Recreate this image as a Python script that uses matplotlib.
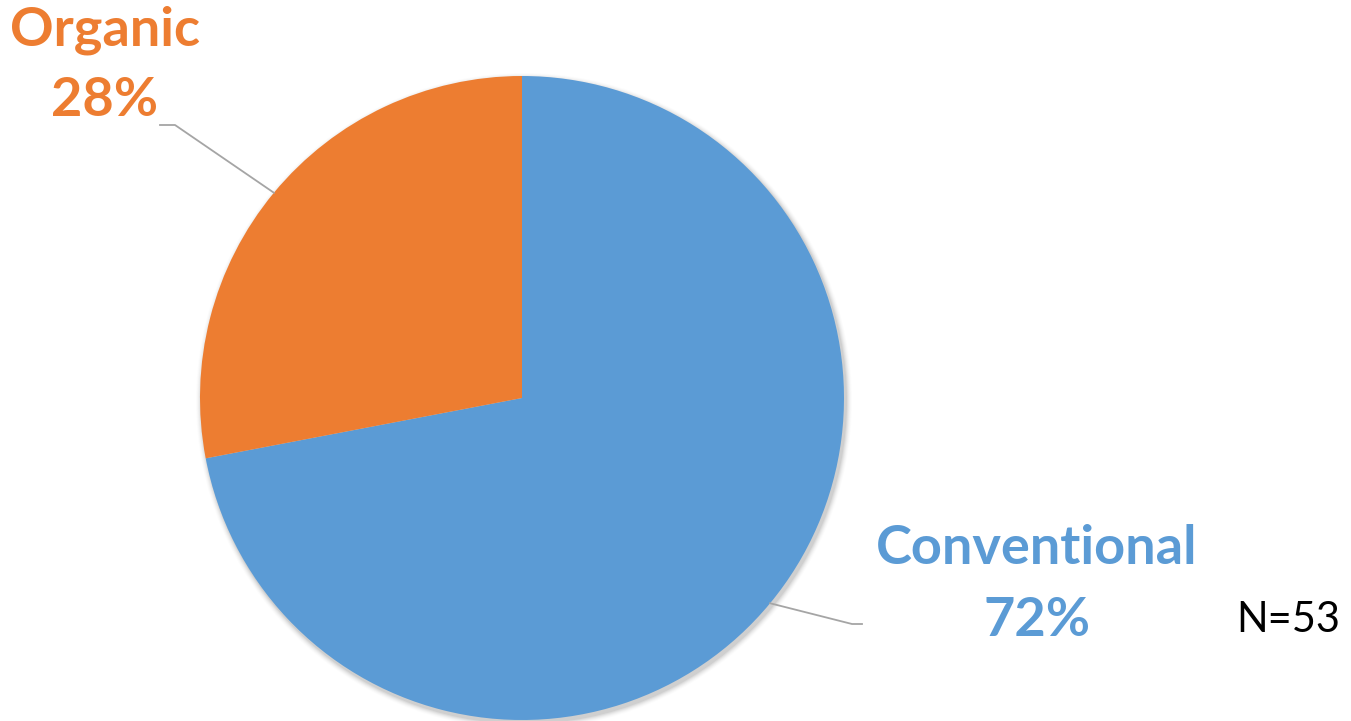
import numpy as np
import matplotlib
matplotlib.use("Agg")
import matplotlib.pyplot as plt
from matplotlib.patches import Circle

categories = ["Conventional", "Organic"]
shares = [72, 28]
colors = ["#5B9BD5", "#ED7D31"]
sample_note = "N=53"

W, H = 1351, 721
fig = plt.figure(figsize=(W / 100, H / 100), dpi=100)
ax = fig.add_axes([0, 0, 1, 1])
ax.set_xlim(0, W)
ax.set_ylim(0, H)
ax.axis("off")

cx, cy, r = 522, H - 398, 322

# soft drop shadow under the pie
for i, a in enumerate(np.linspace(0.05, 0.01, 6)):
    ax.add_patch(Circle((cx + 2, cy - 3), r + 1 + i, color="black", alpha=a,
                        lw=0, zorder=0))

wedges, _ = ax.pie(shares, colors=colors, startangle=90, counterclock=False,
                   center=(cx, cy), radius=r, frame=True,
                   wedgeprops=dict(linewidth=0))
ax.set_xlim(0, W)
ax.set_ylim(0, H)
ax.set_aspect("equal")
ax.axis("off")

font = "Lato"

# leader lines from wedge midpoints to the label elbows
elbows = {"Organic": ((175, H - 125), (160, H - 125)),
          "Conventional": ((852, H - 624), (862, H - 624))}
for w, name in zip(wedges, categories):
    mid = np.deg2rad((w.theta1 + w.theta2) / 2)
    p0 = (cx + r * np.cos(mid), cy + r * np.sin(mid))
    e1, e2 = elbows[name]
    ax.plot([p0[0], e1[0], e2[0]], [p0[1], e1[1], e2[1]],
            color="#A5A5A5", lw=1.3, zorder=3)

label_pos = {"Organic": (105, H - 30, H - 100),
             "Conventional": (1037, H - 548, H - 620)}
for name, val, col in zip(categories, shares, colors):
    x, y1, y2 = label_pos[name]
    ax.text(x, y1, name, color=col, fontsize=39, fontweight="bold",
            family=font, ha="center", va="center")
    ax.text(x, y2, f"{val}%", color=col, fontsize=39, fontweight="bold",
            family=font, ha="center", va="center")

ax.text(1288, H - 620, sample_note, color="black", fontsize=30,
        family=font, ha="center", va="center")

fig.savefig("out.png", dpi=100)
